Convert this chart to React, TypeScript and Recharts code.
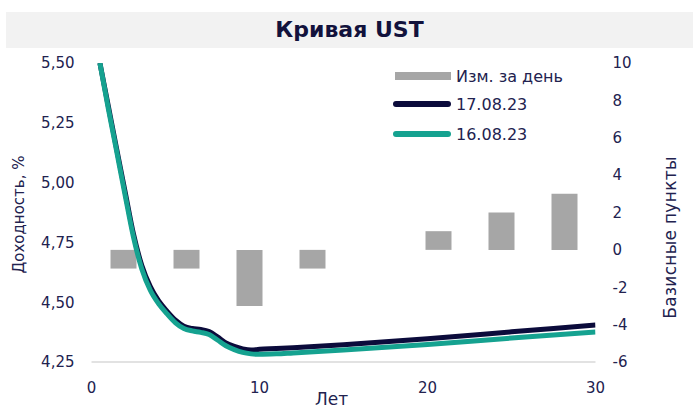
import { Bar, ComposedChart, Legend, Line, XAxis, YAxis } from "recharts";

// daily change by maturity bucket, bp (5th bucket empty)
const bondTerms = ["2Y", "3Y", "5Y", "7Y", "", "10Y", "20Y", "30Y"];
const dailyChange = [-1, -1, -3, -1, null, 1, 2, 3];

// yield curves, years to maturity -> %
const curveYears = [0.5, 1, 1.5, 2, 2.5, 3, 3.5, 4, 4.5, 5, 5.5, 6, 6.5, 7, 7.5, 8, 8.5, 9, 9.5, 10, 11, 12, 15, 20, 25, 30];
const yield170823 = [5.5, 5.32, 5.14, 4.962, 4.785, 4.652, 4.565, 4.505, 4.462, 4.425, 4.4, 4.39, 4.386, 4.377, 4.355, 4.33, 4.315, 4.305, 4.3, 4.303, 4.306, 4.31, 4.322, 4.347, 4.376, 4.405];
const yield160823 = [5.5, 5.31, 5.13, 4.948, 4.772, 4.638, 4.55, 4.493, 4.451, 4.414, 4.39, 4.38, 4.374, 4.365, 4.342, 4.318, 4.302, 4.29, 4.284, 4.282, 4.284, 4.288, 4.3, 4.323, 4.35, 4.375];

const yieldTicks = [4.25, 4.5, 4.75, 5, 5.25, 5.5];
const bpTicks = [-6, -4, -2, 0, 2, 4, 6, 8, 10];
const yearTicks = [0, 10, 20, 30];

const barRows = bondTerms.map((term, i) => ({ term, change: dailyChange[i] }));
const curveRows = curveYears.map((year, i) => ({ year, d17: yield170823[i], d16: yield160823[i] }));

const FONT = "'DejaVu Sans', sans-serif";
const INK = "#22224f";
const NAVY = "#0b0b3b";
const TEAL = "#15a290";
const GRAY = "#a6a6a6";

const tickStyle = { fill: INK, fontSize: 15, fontFamily: FONT };

function sideTitle(text: string, dx: number, dy: number, size: number, spacing: number) {
  return (props: any) => {
    const { x, y, height } = props.viewBox;
    const cx = x + dx;
    const cy = y + height / 2 + dy;
    return (
      <text x={cx} y={cy} transform={`rotate(-90 ${cx} ${cy})`} textAnchor="middle" dominantBaseline="central" fill={INK} fontSize={size} letterSpacing={spacing} fontFamily={FONT}>
        {text}
      </text>
    );
  };
}

function yearsTitle(props: any) {
  const { x, y } = props.viewBox;
  return (
    <text x={x + 240} y={y + 37} textAnchor="middle" dominantBaseline="central" fill={INK} fontSize={17} fontFamily={FONT}>
      Лет
    </text>
  );
}

function LegendBox() {
  const row = { display: "flex", alignItems: "center", height: 28 };
  const label = { marginLeft: 5 };
  return (
    <div style={{ fontFamily: FONT, fontSize: 16, color: INK }}>
      <div style={row}>
        <span style={{ width: 56, height: 8, marginLeft: 2, background: GRAY }} />
        <span style={label}>Изм. за день</span>
      </div>
      <div style={row}>
        <span style={{ width: 58, height: 6, borderRadius: 3, background: NAVY }} />
        <span style={label}>17.08.23</span>
      </div>
      <div style={{ ...row, height: 32 }}>
        <span style={{ width: 58, height: 6, borderRadius: 3, background: TEAL }} />
        <span style={label}>16.08.23</span>
      </div>
    </div>
  );
}

export default function App() {
  return (
    <div style={{ position: "absolute", left: 0, top: 0, width: 699, height: 412, background: "#fff" }}>
      <ComposedChart width={699} height={412} data={barRows} margin={{ top: 63, right: 0, bottom: 0, left: 0 }} style={{ fontFamily: FONT }}>
        <XAxis
          xAxisId="num"
          dataKey="year"
          type="number"
          domain={[0, 30]}
          ticks={yearTicks}
          allowDataOverflow
          height={50}
          axisLine={{ stroke: "#d9d9d9", strokeWidth: 1.5 }}
          tickLine={false}
          tickSize={0}
          tickMargin={20}
          tick={tickStyle}
          label={{ content: yearsTitle }}
        />
        <XAxis xAxisId="cat" dataKey="term" type="category" height={0} hide />
        <YAxis
          yAxisId="left"
          orientation="left"
          width={91.5}
          domain={[4.25, 5.5]}
          ticks={yieldTicks}
          allowDataOverflow
          axisLine={false}
          tickLine={false}
          tickSize={0}
          tickMargin={17}
          tick={tickStyle}
          tickFormatter={(v: number) => v.toFixed(2).replace(".", ",")}
          label={{ content: sideTitle("Доходность, %", 19, 2, 15, 0) }}
        />
        <YAxis
          yAxisId="right"
          orientation="right"
          width={103.5}
          domain={[-6, 10]}
          ticks={bpTicks}
          axisLine={false}
          tickLine={false}
          tickSize={0}
          tickMargin={17}
          tick={tickStyle}
          label={{ content: sideTitle("Базисные пункты", 74.5, 25, 17, 0.3) }}
        />
        <Legend layout="vertical" align="center" verticalAlign="middle" wrapperStyle={{ top: 62, left: 393, width: 220 }} content={() => <LegendBox />} />
        <Bar xAxisId="cat" yAxisId="right" dataKey="change" fill={GRAY} barSize={26} isAnimationActive={false} />
        <Line xAxisId="num" yAxisId="left" data={curveRows} dataKey="d17" type="monotone" stroke={NAVY} strokeWidth={5} dot={false} activeDot={false} isAnimationActive={false} />
        <Line xAxisId="num" yAxisId="left" data={curveRows} dataKey="d16" type="monotone" stroke={TEAL} strokeWidth={5} dot={false} activeDot={false} isAnimationActive={false} />
      </ComposedChart>
      <div
        style={{
          position: "absolute",
          left: 6,
          top: 12,
          width: 687,
          height: 36,
          lineHeight: "36px",
          background: "#f2f2f2",
          textAlign: "center",
          fontFamily: FONT,
          fontWeight: "bold",
          fontSize: 22,
          color: "#12123c",
        }}
      >
        Кривая UST
      </div>
    </div>
  );
}
